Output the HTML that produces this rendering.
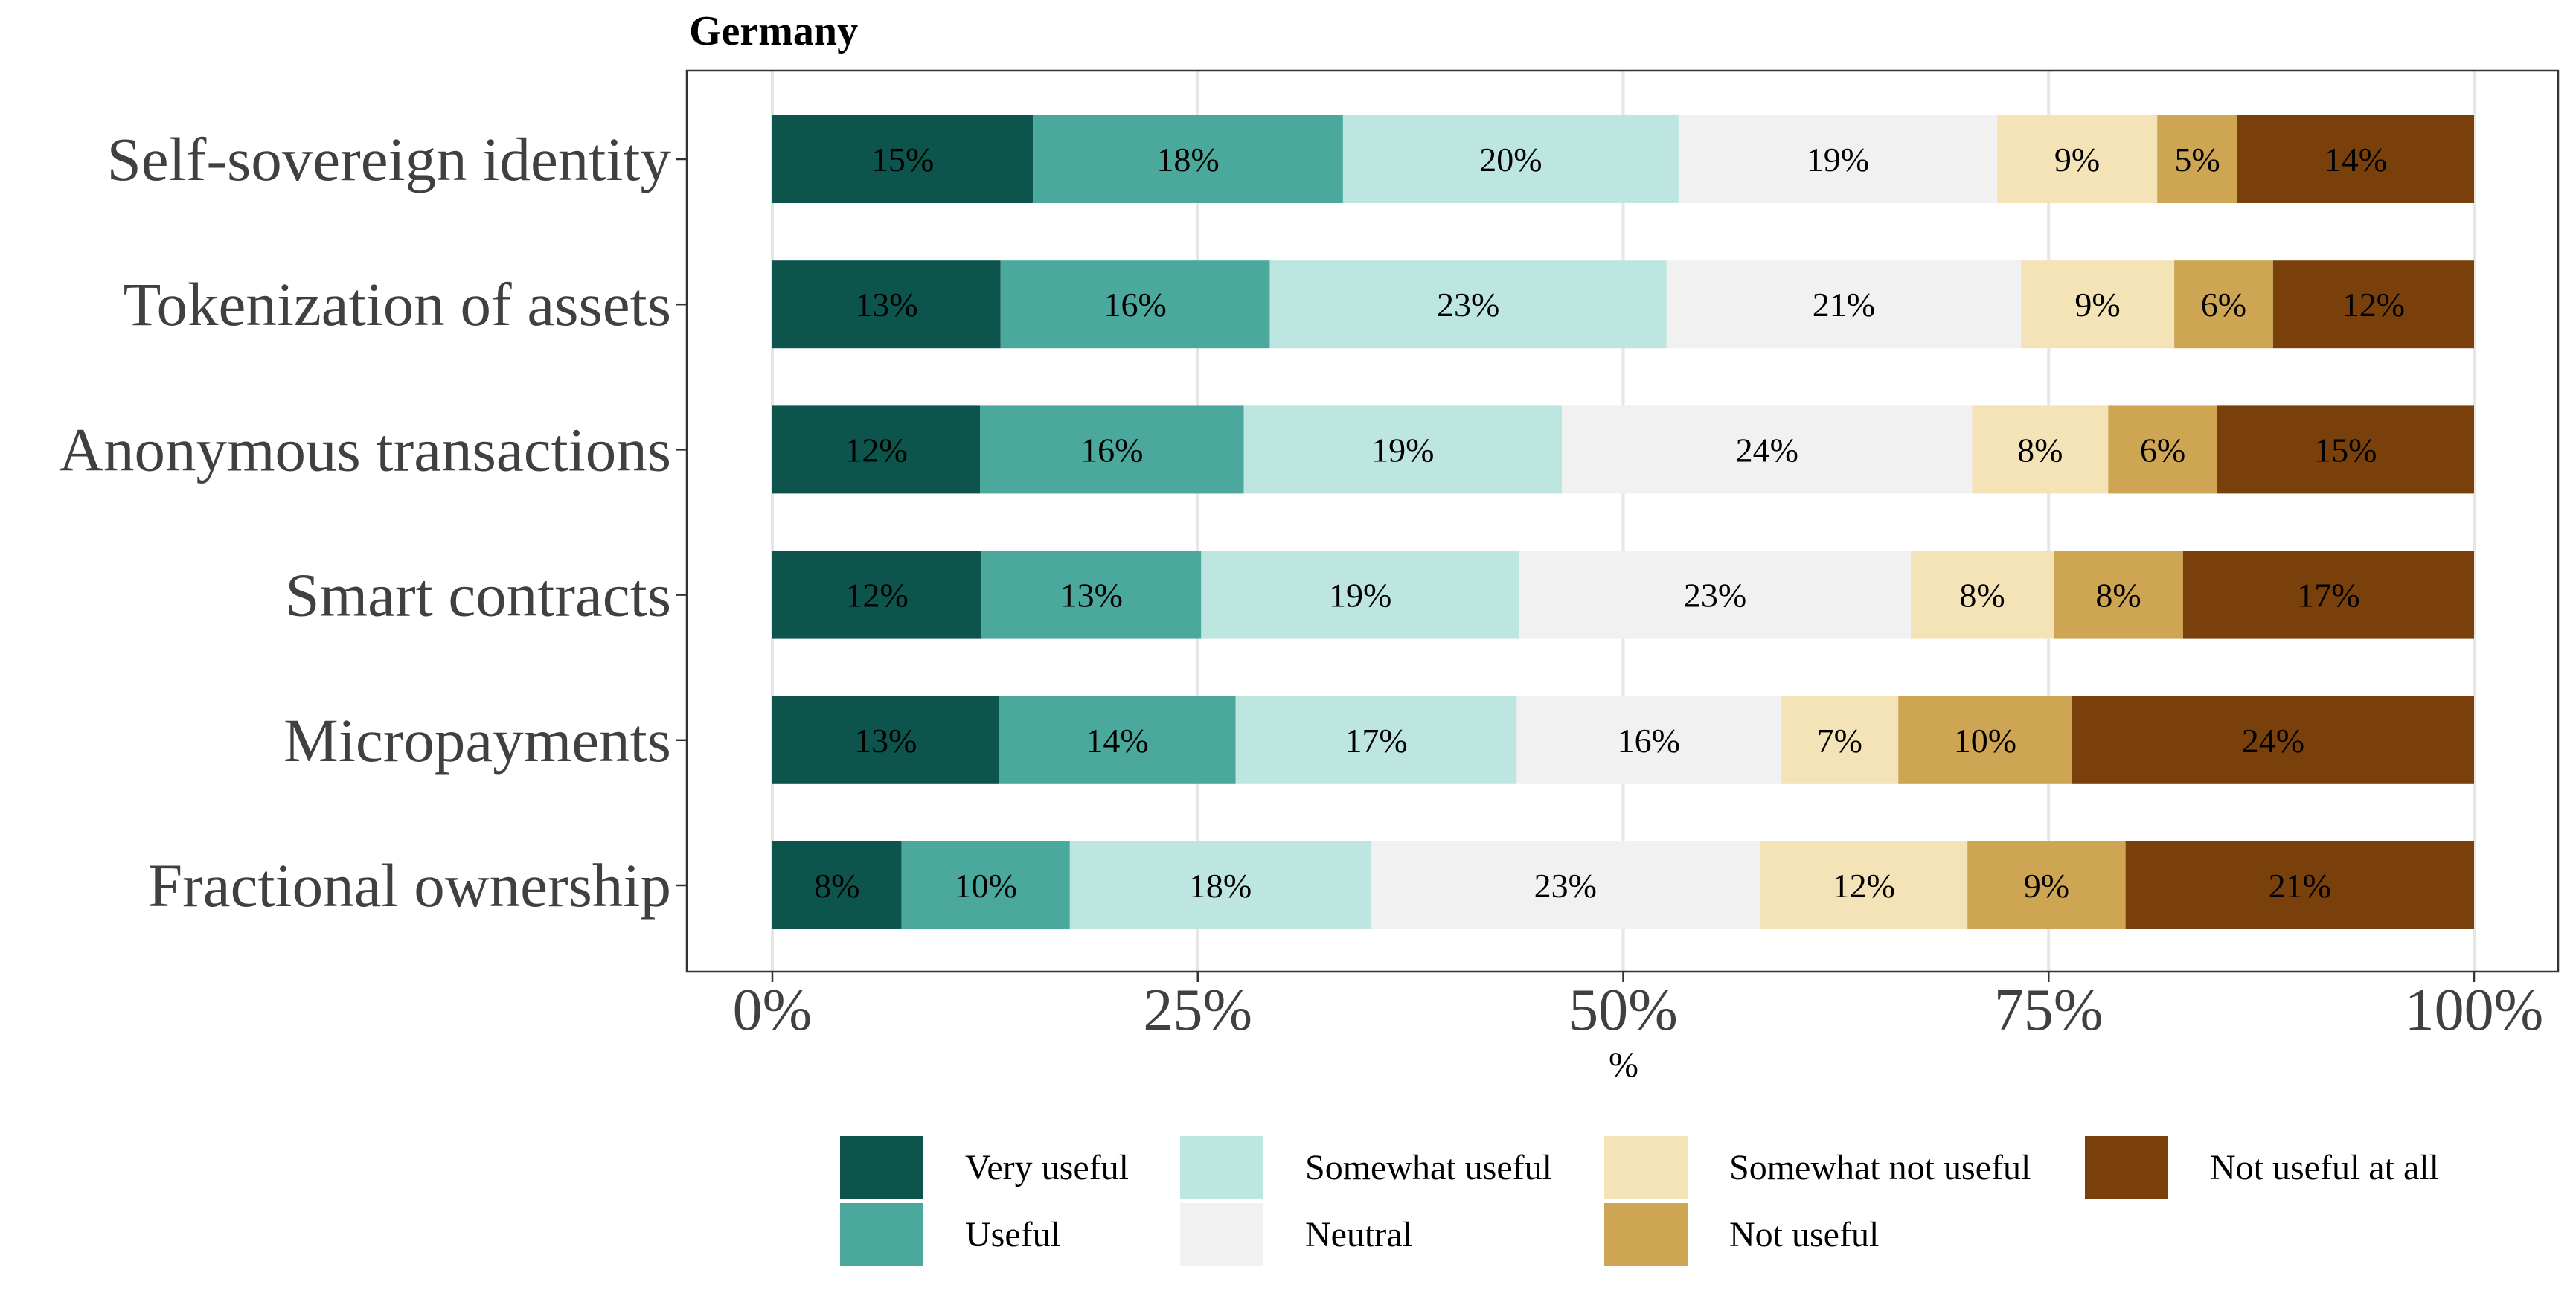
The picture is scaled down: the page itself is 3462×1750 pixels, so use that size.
<!DOCTYPE html>
<html><head><meta charset="utf-8"><style>
html,body{margin:0;padding:0;background:#fff}
svg{display:block;font-family:"Liberation Serif",serif}
</style></head><body>
<svg id="chart" width="3462" height="1750" viewBox="0 0 3462 1750">
<rect width="3462" height="1750" fill="#fff"/>
<text x="926" y="60" font-size="56" font-weight="bold" fill="#000">Germany</text>
<g id="grid"></g>
<g id="bars"></g>
<rect x="923" y="95" width="2515" height="1211" fill="none" stroke="#333" stroke-width="2.5"/>
<g id="axes"></g>
<text x="2182" y="1447" font-size="48" text-anchor="middle" fill="#000">%</text>
<g id="legend"></g>
</svg>
<script>
const categories = ["Self-sovereign identity","Tokenization of assets","Anonymous transactions","Smart contracts","Micropayments","Fractional ownership"];
const levels = ["Very useful","Useful","Somewhat useful","Neutral","Somewhat not useful","Not useful","Not useful at all"];
const colors = ["#0c544c","#4ba89c","#bee6e1","#f1f1f1","#f3e3b6","#cea553","#79400b"];
const veryUseful = [15.3,13.4,12.2,12.3,13.3,7.6];
const useful = [18.2,15.8,15.5,12.9,13.9,9.9];
const somewhatUseful = [19.7,23.3,18.7,18.7,16.5,17.7];
const neutral = [18.7,20.8,24.1,23.0,15.5,22.9];
const somewhatNotUseful = [9.4,9.0,8.0,8.4,6.9,12.2];
const notUseful = [4.7,5.8,6.4,7.6,10.2,9.3];
const notUsefulAtAll = [13.9,11.8,15.1,17.1,23.6,20.5];
const xTicks = [0,25,50,75,100];
const xTickLabels = ["0%","25%","50%","75%","100%"];

const series = [veryUseful,useful,somewhatUseful,neutral,somewhatNotUseful,notUseful,notUsefulAtAll];
const NS = "http://www.w3.org/2000/svg";
const X0 = 1038, X1 = 3325;
const xScale = v => X0 + (X1 - X0) * v / 100;
const yCenter = i => 214 + i * 195.2;
const barH = 118;
function mk(tag, attrs, parent){const e=document.createElementNS(NS,tag);for(const k in attrs)e.setAttribute(k,attrs[k]);parent.appendChild(e);return e;}

const grid = document.getElementById('grid');
xTicks.forEach(t=>{
  const l = mk('line',{x1:xScale(t),x2:xScale(t),y1:95,y2:1306,stroke:'#e6e6e6','stroke-width':4},grid);
  
  
});

const bars = document.getElementById('bars');
categories.forEach((c,i)=>{
  let cum = 0;
  const total = series.reduce((s,a)=>s+a[i],0);
  series.forEach((arr,j)=>{
    const v = arr[i]/total*100;
    const xa = xScale(cum), xb = xScale(cum+v);
    const r = mk('rect',{x:xa,y:yCenter(i)-barH/2,width:xb-xa,height:barH,fill:colors[j]},bars);
    
    
    const t = mk('text',{x:(xa+xb)/2,y:yCenter(i)+16,'font-size':46,'text-anchor':'middle',fill:'#000'},bars);
    t.textContent = Math.round(arr[i])+'%';
    
    
    cum += v;
  });
});

const axes = document.getElementById('axes');
categories.forEach((c,i)=>{
  const tk = mk('line',{x1:908,x2:923,y1:yCenter(i),y2:yCenter(i),stroke:'#333','stroke-width':2.5},axes);
  
  
  const t = mk('text',{x:902,y:yCenter(i)+28,'font-size':83,'text-anchor':'end',fill:'#404040'},axes);
  t.textContent = c;
  
  
});
xTicks.forEach((v,k)=>{
  const tk = mk('line',{x1:xScale(v),x2:xScale(v),y1:1306,y2:1320,stroke:'#333','stroke-width':2.5},axes);
  
  
  const t = mk('text',{x:xScale(v),y:1384,'font-size':80,'text-anchor':'middle',fill:'#404040'},axes);
  t.textContent = xTickLabels[k];
  
  
});

const legend = document.getElementById('legend');
const colX = [1129,1586,2156,2802];
levels.forEach((lv,j)=>{
  const col = Math.floor(j/2), row = j%2;
  const y = row===0 ? 1527 : 1617;
  const g = mk('g',{},legend);
  
  
  const r = mk('rect',{x:colX[col],y:y,width:112,height:84,fill:colors[j]},g);
  
  
  const t = mk('text',{x:colX[col]+168,y:y+58,'font-size':48,fill:'#000'},g);
  t.textContent = lv;
  
  
});
</script>
</body></html>
